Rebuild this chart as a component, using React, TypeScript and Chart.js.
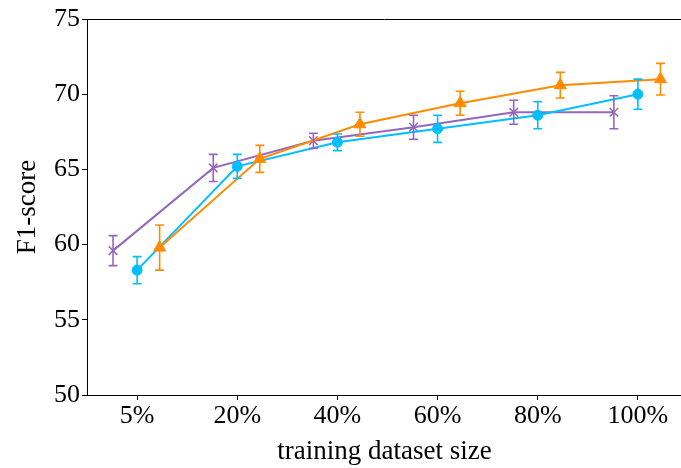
import { useEffect, useRef } from 'react';
import { Chart, registerables } from 'chart.js';

Chart.register(...registerables);

const xLabels = ['5%', '20%', '40%', '60%', '80%', '100%'];
const yTicks = [50, 55, 60, 65, 70, 75];

const purpleVals = [59.6, 65.1, 66.9, 67.8, 68.8, 68.8];
const purpleErr = [1.0, 0.9, 0.5, 0.8, 0.8, 1.1];
const cyanVals = [58.3, 65.2, 66.8, 67.7, 68.6, 70.0];
const cyanErr = [0.9, 0.8, 0.55, 0.9, 0.9, 1.0];
const orangeVals = [59.8, 65.7, 68.0, 69.4, 70.6, 71.0];
const orangeErr = [1.5, 0.9, 0.8, 0.8, 0.85, 1.05];

const PURPLE = '#9467bd';
const CYAN = '#00bfff';
const ORANGE = '#ff8c00';
const FONT = 'Liberation Serif';

const errorBarPlugin = {
  id: 'errorBars',
  afterDatasetsDraw(chart: any) {
    const { ctx } = chart;
    const xS = chart.scales.x;
    const yS = chart.scales.y;
    chart.data.datasets.forEach((ds: any) => {
      ctx.save();
      ctx.strokeStyle = ds.borderColor;
      ctx.lineWidth = 1.6;
      ds.data.forEach((p: any, i: number) => {
        const e = ds.errors[i];
        const x = xS.getPixelForValue(p.x);
        const y1 = yS.getPixelForValue(p.y + e);
        const y2 = yS.getPixelForValue(p.y - e);
        ctx.beginPath();
        ctx.moveTo(x, y1);
        ctx.lineTo(x, y2);
        ctx.moveTo(x - 4.5, y1);
        ctx.lineTo(x + 4.5, y1);
        ctx.moveTo(x - 4.5, y2);
        ctx.lineTo(x + 4.5, y2);
        ctx.stroke();
      });
      ctx.restore();
    });
  },
};

const framePlugin = {
  id: 'frame',
  afterDraw(chart: any) {
    const { ctx, chartArea } = chart;
    ctx.save();
    ctx.strokeStyle = '#000';
    ctx.lineWidth = 1;
    ctx.beginPath();
    ctx.moveTo(chartArea.left, Math.round(chartArea.top) + 0.5);
    ctx.lineTo(chartArea.right, Math.round(chartArea.top) + 0.5);
    ctx.moveTo(Math.round(chartArea.right) - 0.5, chartArea.top);
    ctx.lineTo(Math.round(chartArea.right) - 0.5, chartArea.bottom);
    ctx.stroke();
    ctx.restore();
  },
};

function series(vals: number[], offset: number) {
  return vals.map((v, i) => ({ x: i + offset, y: v }));
}

export default function App() {
  const ref = useRef<HTMLCanvasElement | null>(null);

  useEffect(() => {
    if (!ref.current) return;
    const chart = new Chart(ref.current, {
      type: 'line',
      data: {
        datasets: [
          {
            label: 'orange',
            data: series(orangeVals, 0.225),
            errors: orangeErr,
            borderColor: ORANGE,
            backgroundColor: ORANGE,
            borderWidth: 2,
            pointStyle: 'triangle',
            pointRadius: 7,
            pointBorderWidth: 1,
            order: 0,
          } as any,
          {
            label: 'cyan',
            data: series(cyanVals, 0),
            errors: cyanErr,
            borderColor: CYAN,
            backgroundColor: CYAN,
            borderWidth: 2,
            pointStyle: 'circle',
            pointRadius: 5,
            pointBorderWidth: 1,
            order: 1,
          } as any,
          {
            label: 'purple',
            data: series(purpleVals, -0.24),
            errors: purpleErr,
            borderColor: PURPLE,
            backgroundColor: PURPLE,
            borderWidth: 2,
            pointStyle: 'crossRot',
            pointRadius: 6,
            pointBorderWidth: 1.5,
            order: 2,
          } as any,
        ],
      },
      options: {
        animation: false,
        responsive: false,
        devicePixelRatio: 1,
        layout: { autoPadding: false, padding: { top: 19, right: 2, left: 0, bottom: 0 } },
        plugins: { legend: { display: false }, tooltip: { enabled: false } },
        scales: {
          x: {
            type: 'linear',
            min: -0.5,
            max: 5.44,
            afterBuildTicks: (scale: any) => {
              scale.ticks = xLabels.map((_, i) => ({ value: i }));
            },
            afterFit: (scale: any) => {
              scale.height = 73;
            },
            ticks: {
              color: '#000',
              font: { family: FONT, size: 26 },
              padding: 1,
              maxRotation: 0,
              autoSkip: false,
              callback: (v: any) => xLabels[v as number] ?? '',
            },
            grid: {
              drawOnChartArea: false,
              drawTicks: true,
              tickLength: 5,
              tickColor: '#000',
              tickWidth: 1,
            },
            border: { color: '#000', width: 1 },
            title: {
              display: true,
              text: 'training dataset size',
              color: '#000',
              font: { family: FONT, size: 27 },
              padding: { top: 0, bottom: 0 },
            },
          },
          y: {
            type: 'linear',
            min: 50,
            max: 75,
            afterBuildTicks: (scale: any) => {
              scale.ticks = yTicks.map((v) => ({ value: v }));
            },
            afterFit: (scale: any) => {
              scale.width = 87;
            },
            ticks: {
              color: '#000',
              font: { family: FONT, size: 26 },
              padding: 2,
              autoSkip: false,
            },
            grid: {
              drawOnChartArea: false,
              drawTicks: true,
              tickLength: 5,
              tickColor: '#000',
              tickWidth: 1,
            },
            border: { color: '#000', width: 1 },
            title: {
              display: true,
              text: 'F1-score',
              color: '#000',
              font: { family: FONT, size: 27 },
              padding: { top: 12, bottom: 0 },
            },
          },
        },
      },
      plugins: [errorBarPlugin, framePlugin],
    } as any);
    return () => chart.destroy();
  }, []);

  return (
    <div
      style={{
        position: 'absolute',
        left: 0,
        top: 0,
        width: 681,
        height: 468,
        overflow: 'hidden',
        background: '#fff',
      }}
    >
      <canvas ref={ref} width={684} height={468} style={{ width: 684, height: 468, display: 'block' }} />
    </div>
  );
}
